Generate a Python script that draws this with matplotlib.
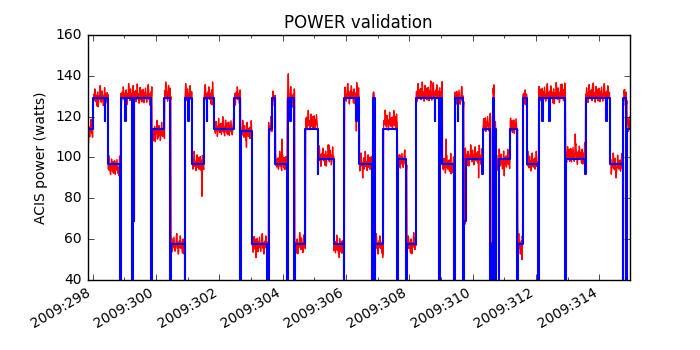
import numpy as np
import matplotlib
matplotlib.use('Agg')
import matplotlib.pyplot as plt
from matplotlib.ticker import MultipleLocator, FuncFormatter

plt.style.use('classic')
plt.rcParams['font.size'] = 10

# model (blue) steps: day of 2009, watts; 0 = dropout spike below the axis
model_days = [297.84, 298.00, 298.38, 298.40, 298.49, 298.88, 298.89, 299.02, 299.04,
              299.26, 299.27, 299.30, 299.31, 299.86, 299.87, 300.27, 300.46, 300.47,
              300.91, 300.92, 301.02, 301.04, 301.13, 301.51, 301.60, 301.62, 301.82,
              302.47, 302.67, 302.68, 303.03, 303.50, 303.58, 303.66, 303.77, 304.13,
              304.17, 304.23, 304.25, 304.37, 304.40, 304.72, 305.11, 305.13, 305.61,
              305.94, 305.95, 306.32, 306.34, 306.42, 306.81, 306.84, 306.91, 306.93,
              307.18, 307.62, 307.63, 307.90, 307.93, 308.21, 308.80, 308.82, 308.95,
              308.96, 309.04, 309.42, 309.44, 309.53, 309.55, 309.71, 309.73, 309.79,
              310.30, 310.32, 310.56, 310.57, 310.63, 310.64, 310.67, 310.68, 310.73,
              310.84, 311.18, 311.40, 311.44, 311.58, 311.71, 312.07, 312.09, 312.19,
              312.21, 312.42, 312.44, 312.92, 312.95, 313.55, 313.57, 314.21, 314.23,
              314.34, 314.74, 314.76, 314.85, 314.88]
model_watts = [114, 129, 118, 129, 97, 0, 129, 118, 129,
               0, 129, 69, 129, 0, 114, 129, 0, 57.5,
               0, 129, 118, 129, 97, 129, 118, 129, 114,
               129, 0, 113, 57.5, 0, 114, 129, 97, 0,
               129, 118, 129, 0, 57.5, 114, 92, 99.5, 57.5,
               0, 129, 118, 129, 97, 0, 129, 0, 57.5,
               114, 0, 99.5, 0, 57.5, 129, 118, 129, 0,
               129, 97, 0, 129, 118, 129, 0, 69, 99.5,
               92, 114, 0, 57.5, 0, 129, 0, 114, 0,
               99.5, 114, 0, 57.5, 129, 97, 0, 129, 118,
               129, 118, 129, 0, 99.5, 92, 129, 118, 129,
               97, 0, 129, 0, 114]

# telemetry (red) mean level per segment
telem_days = [297.84, 298.00, 298.49, 298.88, 299.87, 300.27, 300.47, 300.91, 301.13,
              301.51, 301.82, 302.47, 302.67, 303.03, 303.55, 303.66, 303.77, 304.14,
              304.38, 304.72, 305.11, 305.61, 305.95, 306.42, 306.84, 306.92, 307.18,
              307.62, 307.92, 308.21, 309.04, 309.43, 309.72, 309.76, 310.32, 310.57,
              310.64, 310.68, 310.74, 311.18, 311.42, 311.58, 311.71, 312.08, 312.93,
              313.56, 314.34, 314.75, 314.87]
telem_watts = [113, 129, 95, 130, 112, 131, 57, 130, 97,
               130, 114, 130, 112, 57, 114, 129, 97, 129,
               57, 117, 100, 56, 130.5, 97, 130, 57, 117,
               98, 57, 131, 96, 129, 68, 100, 116, 57,
               131, 116, 98, 115, 57, 130, 97, 130.5, 101,
               130.5, 96, 129, 116]

# isolated telemetry excursions
spike_days = [297.87, 298.84, 300.05, 301.45, 301.79, 302.86, 303.16, 303.98, 304.18,
              305.47, 305.79, 306.33, 306.53, 306.87, 307.16, 307.56, 308.68, 309.16,
              309.32, 310.19, 310.65, 311.00, 311.56, 312.82, 313.24, 313.79, 314.53,
              314.78]
spike_watts = [107, 91, 109, 81, 137, 105, 51, 109, 141,
               106, 51, 113, 90, 132, 51, 120, 137.5, 109,
               92, 90, 134, 91, 50, 136, 111.5, 135.5, 90,
               133]

# sample-to-sample scatter of the telemetry (watts)
jitter = [0.4, -1.1, 1.7, 4.0, 2.1, 0.8, -2.0, -2.9, -1.3, 0.1, 2.5, 5.0, 5.7,
          3.1, -1.4, 1.3, -3.1, -4.3, -1.7, 0.3, 2.1, -0.8, 0.0, 4.6, 2.7, -1.5,
          1.0, -0.4, 1.5, -2.5, -3.8, 0.7, 3.1, -1.0, -4.2, -2.0, 1.1, 0.1, -0.6,
          2.0, 6.2, 3.8, -1.3, 0.4, -2.1, 0.8, 3.6, -0.1, -0.8, 1.4, -3.6, -2.4,
          0.3, 1.3, 5.2, 1.7, -1.1, 0.6, -1.7, 2.2, 0.0, -0.4, 2.8, -2.7, 0.7,
          1.8, -0.7, 6.0, 2.9, -1.4, 0.3, 1.0, -2.3, -3.4, 0.9, 2.4, 4.3, 1.2,
          -0.5, -1.9, 0.6, 3.0, -2.8, -1.2, 1.9, 0.2, 3.4, -0.9, -3.2, 1.6]

x_min, x_max = 297.84, 314.97

t = np.arange(x_min, x_max, 0.01)
seg = np.searchsorted(telem_days, t, side='right') - 1
telem = np.asarray(telem_watts, dtype=float)[seg] + np.resize(jitter, len(t))
for d, w in zip(spike_days, spike_watts):
    telem[np.argmin(np.abs(t - d))] = w

fig = plt.figure(figsize=(7, 3.5), dpi=100, facecolor='white')
ax = fig.add_subplot(111)
ax.plot(t, telem, color='r', linewidth=1.0)
ax.step(model_days + [x_max], model_watts + [model_watts[-1]], where='post',
        color='b', linewidth=1.5)

ax.set_xlim(x_min, x_max)
ax.set_ylim(40, 160)
ax.xaxis.set_major_locator(MultipleLocator(2))
ax.xaxis.set_minor_locator(MultipleLocator(1))
ax.xaxis.set_major_formatter(FuncFormatter(lambda v, pos: '2009:%03d' % round(v)))
ax.yaxis.set_major_locator(MultipleLocator(20))
ax.yaxis.set_minor_locator(plt.NullLocator())
ax.set_title('POWER validation')
ax.set_ylabel('ACIS power (watts)')
fig.autofmt_xdate()

fig.savefig('out.png', dpi=100, facecolor='white')
